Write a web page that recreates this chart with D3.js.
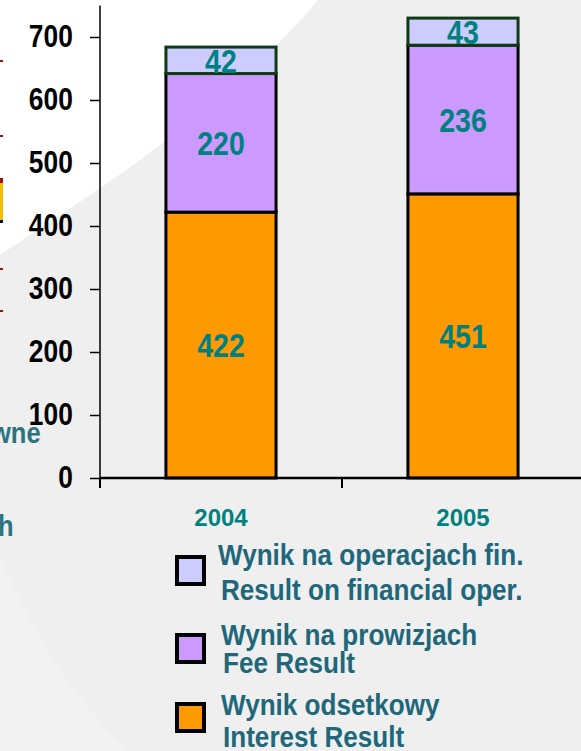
<!DOCTYPE html>
<html>
<head>
<meta charset="utf-8">
<script src="https://cdn.jsdelivr.net/npm/d3@7"></script>
<style>
  body { margin: 0; background: #efefef; }
  svg { display: block; }
</style>
</head>
<body>
<script>
// chart data
var years    = ["2004", "2005"];
var interest = [422, 451];   // Wynik odsetkowy
var fee      = [220, 236];   // Wynik na prowizjach
var finOps   = [42, 43];     // Wynik na operacjach fin.
var yTicks   = [0, 100, 200, 300, 400, 500, 600, 700];
var legendPl = ["Wynik na operacjach fin.", "Wynik na prowizjach", "Wynik odsetkowy"];
var legendEn = ["Result on financial oper.", "Fee Result", "Interest Result"];

var W = 581, H = 751;
var font = "'Liberation Sans', Arial, sans-serif";

// no narrow font installed, so squeeze text horizontally
function squeeze(sel, x, y, sx) {
    sel.attr("x", 0).attr("y", 0)
       .attr("transform", "translate(" + x + "," + y + ") scale(" + sx + ",1)");
    return sel;
}

var svg = d3.select("body").append("svg")
    .attr("width", W)
    .attr("height", H);

// background: gray slide with white swoosh top-left
svg.append("rect").attr("width", W).attr("height", H).attr("fill", "#efefef");
svg.append("path")
    .attr("d", "M0,0 L318,0 C260,70 160,150 60,215 C35,232 15,245 0,255 Z")
    .attr("fill", "#ffffff");
svg.append("path")
    .attr("d", "M0,560 C20,600 60,690 130,751 L0,751 Z")
    .attr("fill", "#f2f2f2");

// cut-off fragments of the slide on the left edge
var frag = svg.append("g");
[60, 135, 268, 310].forEach(function(y) {
    frag.append("rect").attr("x", 0).attr("y", y).attr("width", 3).attr("height", 2).attr("fill", "#a01010");
});
frag.append("rect").attr("x", 0).attr("y", 180).attr("width", 3).attr("height", 40).attr("fill", "#f0c000");
frag.append("rect").attr("x", 0).attr("y", 178).attr("width", 3).attr("height", 5).attr("fill", "#a01010");
frag.append("rect").attr("x", 0).attr("y", 220).attr("width", 3).attr("height", 3).attr("fill", "#111");
squeeze(frag.append("text"), -9, 443, 0.88).text("wne")
    .attr("font-family", font).attr("font-weight", "bold").attr("font-size", "29px").attr("fill", "#2a7480");
squeeze(frag.append("text"), -2, 536, 0.88).text("h")
    .attr("font-family", font).attr("font-weight", "bold").attr("font-size", "29px").attr("fill", "#2a7480");

// scales
var x = d3.scaleBand().domain(years).range([100, 584]).paddingInner(0.545).paddingOuter(0.2725);
var y = d3.scaleLinear().domain([0, 750]).range([478, 5.5]);

// stacked data
var table = years.map(function(yr, i) {
    return { year: yr, interest: interest[i], fee: fee[i], finOps: finOps[i] };
});
var keys = ["interest", "fee", "finOps"];
var fills = { interest: "#ff9900", fee: "#cc99ff", finOps: "#ccccff" };
var strokes = { interest: "#000000", fee: "#000000", finOps: "#0f3a12" };
var stacked = d3.stack().keys(keys)(table);

// bars
var layers = svg.selectAll(".layer")
    .data(stacked)
    .enter().append("g")
    .attr("class", "layer");

layers.selectAll("rect")
    .data(function(d) { return d.map(function(p) { p.key = d.key; return p; }); })
    .enter().append("rect")
    .attr("x", function(d) { return x(d.data.year); })
    .attr("y", function(d) { return y(d[1]); })
    .attr("width", x.bandwidth())
    .attr("height", function(d) { return y(d[0]) - y(d[1]); })
    .attr("fill", function(d) { return fills[d.key]; })
    .attr("stroke", function(d) { return strokes[d.key]; })
    .attr("stroke-width", 3);

// value labels
layers.selectAll("text")
    .data(function(d) { return d; })
    .enter().append("text")
    .each(function(d) {
        squeeze(d3.select(this), x(d.data.year) + x.bandwidth() / 2, (y(d[0]) + y(d[1])) / 2 + 1, 0.84);
    })
    .attr("text-anchor", "middle")
    .attr("dominant-baseline", "central")
    .attr("font-family", font)
    .attr("font-weight", "bold")
    .attr("font-size", "34px")
    .attr("fill", "#008080")
    .text(function(d) { return d[1] - d[0]; });

// y axis
var yAxis = svg.append("g")
    .attr("transform", "translate(100,0)")
    .call(d3.axisLeft(y).tickValues(yTicks).tickSize(10).tickPadding(22));
yAxis.select(".domain").attr("d", "M0," + y(750) + "V" + y(0)).attr("stroke-width", 1.5);
yAxis.selectAll(".tick line").attr("stroke-width", 1.5);
yAxis.selectAll("text")
    .attr("transform", "scale(0.85,1)")
    .attr("font-family", font)
    .attr("font-weight", "bold")
    .attr("font-size", "31px")
    .attr("fill", "#000");

// x axis
var xAxis = svg.append("g")
    .attr("transform", "translate(0," + y(0) + ")");
xAxis.append("line")
    .attr("x1", 100).attr("x2", W)
    .attr("stroke", "#000").attr("stroke-width", 2.5);
xAxis.selectAll(".xtick")
    .data([100, x("2005") - x.step() * x.paddingInner() / 2])
    .enter().append("line")
    .attr("x1", function(d) { return d; })
    .attr("x2", function(d) { return d; })
    .attr("y1", 0).attr("y2", 10)
    .attr("stroke", "#000").attr("stroke-width", 2);
xAxis.selectAll(".xlabel")
    .data(years)
    .enter().append("text")
    .attr("x", function(d) { return x(d) + x.bandwidth() / 2; })
    .attr("y", 48)
    .attr("text-anchor", "middle")
    .attr("font-family", font)
    .attr("font-weight", "bold")
    .attr("font-size", "24px")
    .attr("fill", "#008080")
    .text(function(d) { return d; });

// legend
var legendColors = ["#ccccff", "#cc99ff", "#ff9900"];
var legendBoxY = [557, 635, 704];
var legendLine1 = [565, 645, 715];
var legendLine2 = [600, 673, 747];
var lg = svg.append("g");
legendPl.forEach(function(name, i) {
    lg.append("rect")
        .attr("x", 177).attr("y", legendBoxY[i])
        .attr("width", 27).attr("height", 27)
        .attr("fill", legendColors[i])
        .attr("stroke", "#000").attr("stroke-width", 4);
    squeeze(lg.append("text"), 218 + (i > 0 ? 3 : 0), legendLine1[i], 0.9)
        .attr("font-family", font).attr("font-weight", "bold").attr("font-size", "29px")
        .attr("fill", "#21677a")
        .text(name);
    squeeze(lg.append("text"), 221 + (i > 0 ? 2 : 0), legendLine2[i], 0.9)
        .attr("font-family", font).attr("font-weight", "bold").attr("font-size", "29px")
        .attr("fill", "#21677a")
        .text(legendEn[i]);
});
</script>
</body>
</html>
